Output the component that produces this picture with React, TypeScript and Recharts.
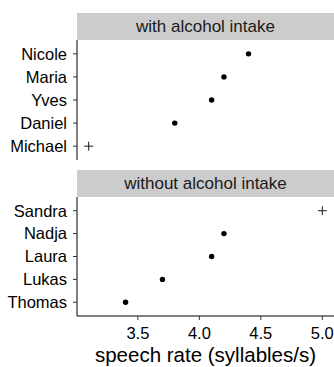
import React from 'react';
import { ScatterChart, Scatter, XAxis, YAxis } from 'recharts';

// rows are listed bottom to top
const withNames = ['Michael', 'Daniel', 'Yves', 'Maria', 'Nicole'];
const withRates = [3.1, 3.8, 4.1, 4.2, 4.4];
const withOutliers = ['Michael'];

const withoutNames = ['Thomas', 'Lukas', 'Laura', 'Nadja', 'Sandra'];
const withoutRates = [3.4, 3.7, 4.1, 4.2, 5.0];
const withoutOutliers = ['Sandra'];

const xTicks = [3.5, 4.0, 4.5, 5.0];
const panelTitles = ['with alcohol intake', 'without alcohol intake'];

const FONT = '"Liberation Sans", Arial, sans-serif';
const X_DOMAIN: [number, number] = [3.005, 5.095];

function buildRows(names: string[], rates: number[]) {
  return names.map((name, i) => ({ name, rate: rates[i], pos: i + 1 }));
}

const Dot = (props: any) => <circle cx={props.cx} cy={props.cy} r={2.7} fill="#000" />;

const Plus = (props: any) => (
  <g stroke="#1a1a1a" strokeWidth={1}>
    <line x1={props.cx - 4.5} x2={props.cx + 4.5} y1={props.cy} y2={props.cy} />
    <line x1={props.cx} x2={props.cx} y1={props.cy - 4.5} y2={props.cy + 4.5} />
  </g>
);

function Strip({ top, label }: { top: number; label: string }) {
  return (
    <div
      style={{
        position: 'absolute',
        left: 77,
        top,
        width: 257,
        height: 27,
        background: '#cccccc',
        color: '#1a1a1a',
        fontSize: 17,
        lineHeight: '27px',
        textAlign: 'center',
      }}
    >
      {label}
    </div>
  );
}

function Panel({
  names,
  rates,
  outliers,
  height,
  top,
  showX,
}: {
  names: string[];
  rates: number[];
  outliers: string[];
  height: number;
  top: number;
  showX: boolean;
}) {
  const rows = buildRows(names, rates);
  const regular = rows.filter((r) => !outliers.includes(r.name));
  const odd = rows.filter((r) => outliers.includes(r.name));

  return (
    <div style={{ position: 'absolute', left: 0, top }}>
      <ScatterChart
        width={334}
        height={height}
        margin={{ top: 27, right: 0, bottom: 0, left: 0 }}
      >
        <XAxis
          type="number"
          dataKey="rate"
          domain={X_DOMAIN}
          ticks={xTicks}
          interval={0}
          tickFormatter={(v) => v.toFixed(1)}
          hide={!showX}
          height={51}
          tickSize={4}
          tickMargin={7}
          tick={{ fill: '#000', fontSize: 16.5, fontFamily: FONT }}
          tickLine={{ stroke: '#333' }}
          axisLine={{ stroke: '#000' }}
          label={{
            value: 'speech rate (syllables/s)',
            position: 'insideBottom',
            offset: 5,
            fill: '#000',
            fontSize: 20.5,
            fontFamily: FONT,
          }}
        />
        <YAxis
          type="number"
          dataKey="pos"
          domain={[0.4, 5.6]}
          ticks={[1, 2, 3, 4, 5]}
          interval={0}
          tickFormatter={(v) => names[v - 1]}
          width={77}
          tickSize={4}
          tickMargin={6}
          tick={{ fill: '#000', fontSize: 16.5, fontFamily: FONT }}
          tickLine={{ stroke: '#333' }}
          axisLine={{ stroke: '#000' }}
        />
        <Scatter data={regular} shape={Dot} isAnimationActive={false} />
        <Scatter data={odd} shape={Plus} isAnimationActive={false} />
      </ScatterChart>
    </div>
  );
}

export default function App() {
  return (
    <div
      style={{
        position: 'absolute',
        left: 0,
        top: 0,
        width: 334,
        height: 367,
        background: '#fff',
        fontFamily: FONT,
      }}
    >
      <Panel names={withNames} rates={withRates} outliers={withOutliers} height={147} top={13} showX={false} />
      <Panel names={withoutNames} rates={withoutRates} outliers={withoutOutliers} height={197} top={170} showX />
      <Strip top={13} label={panelTitles[0]} />
      <Strip top={170} label={panelTitles[1]} />
    </div>
  );
}
